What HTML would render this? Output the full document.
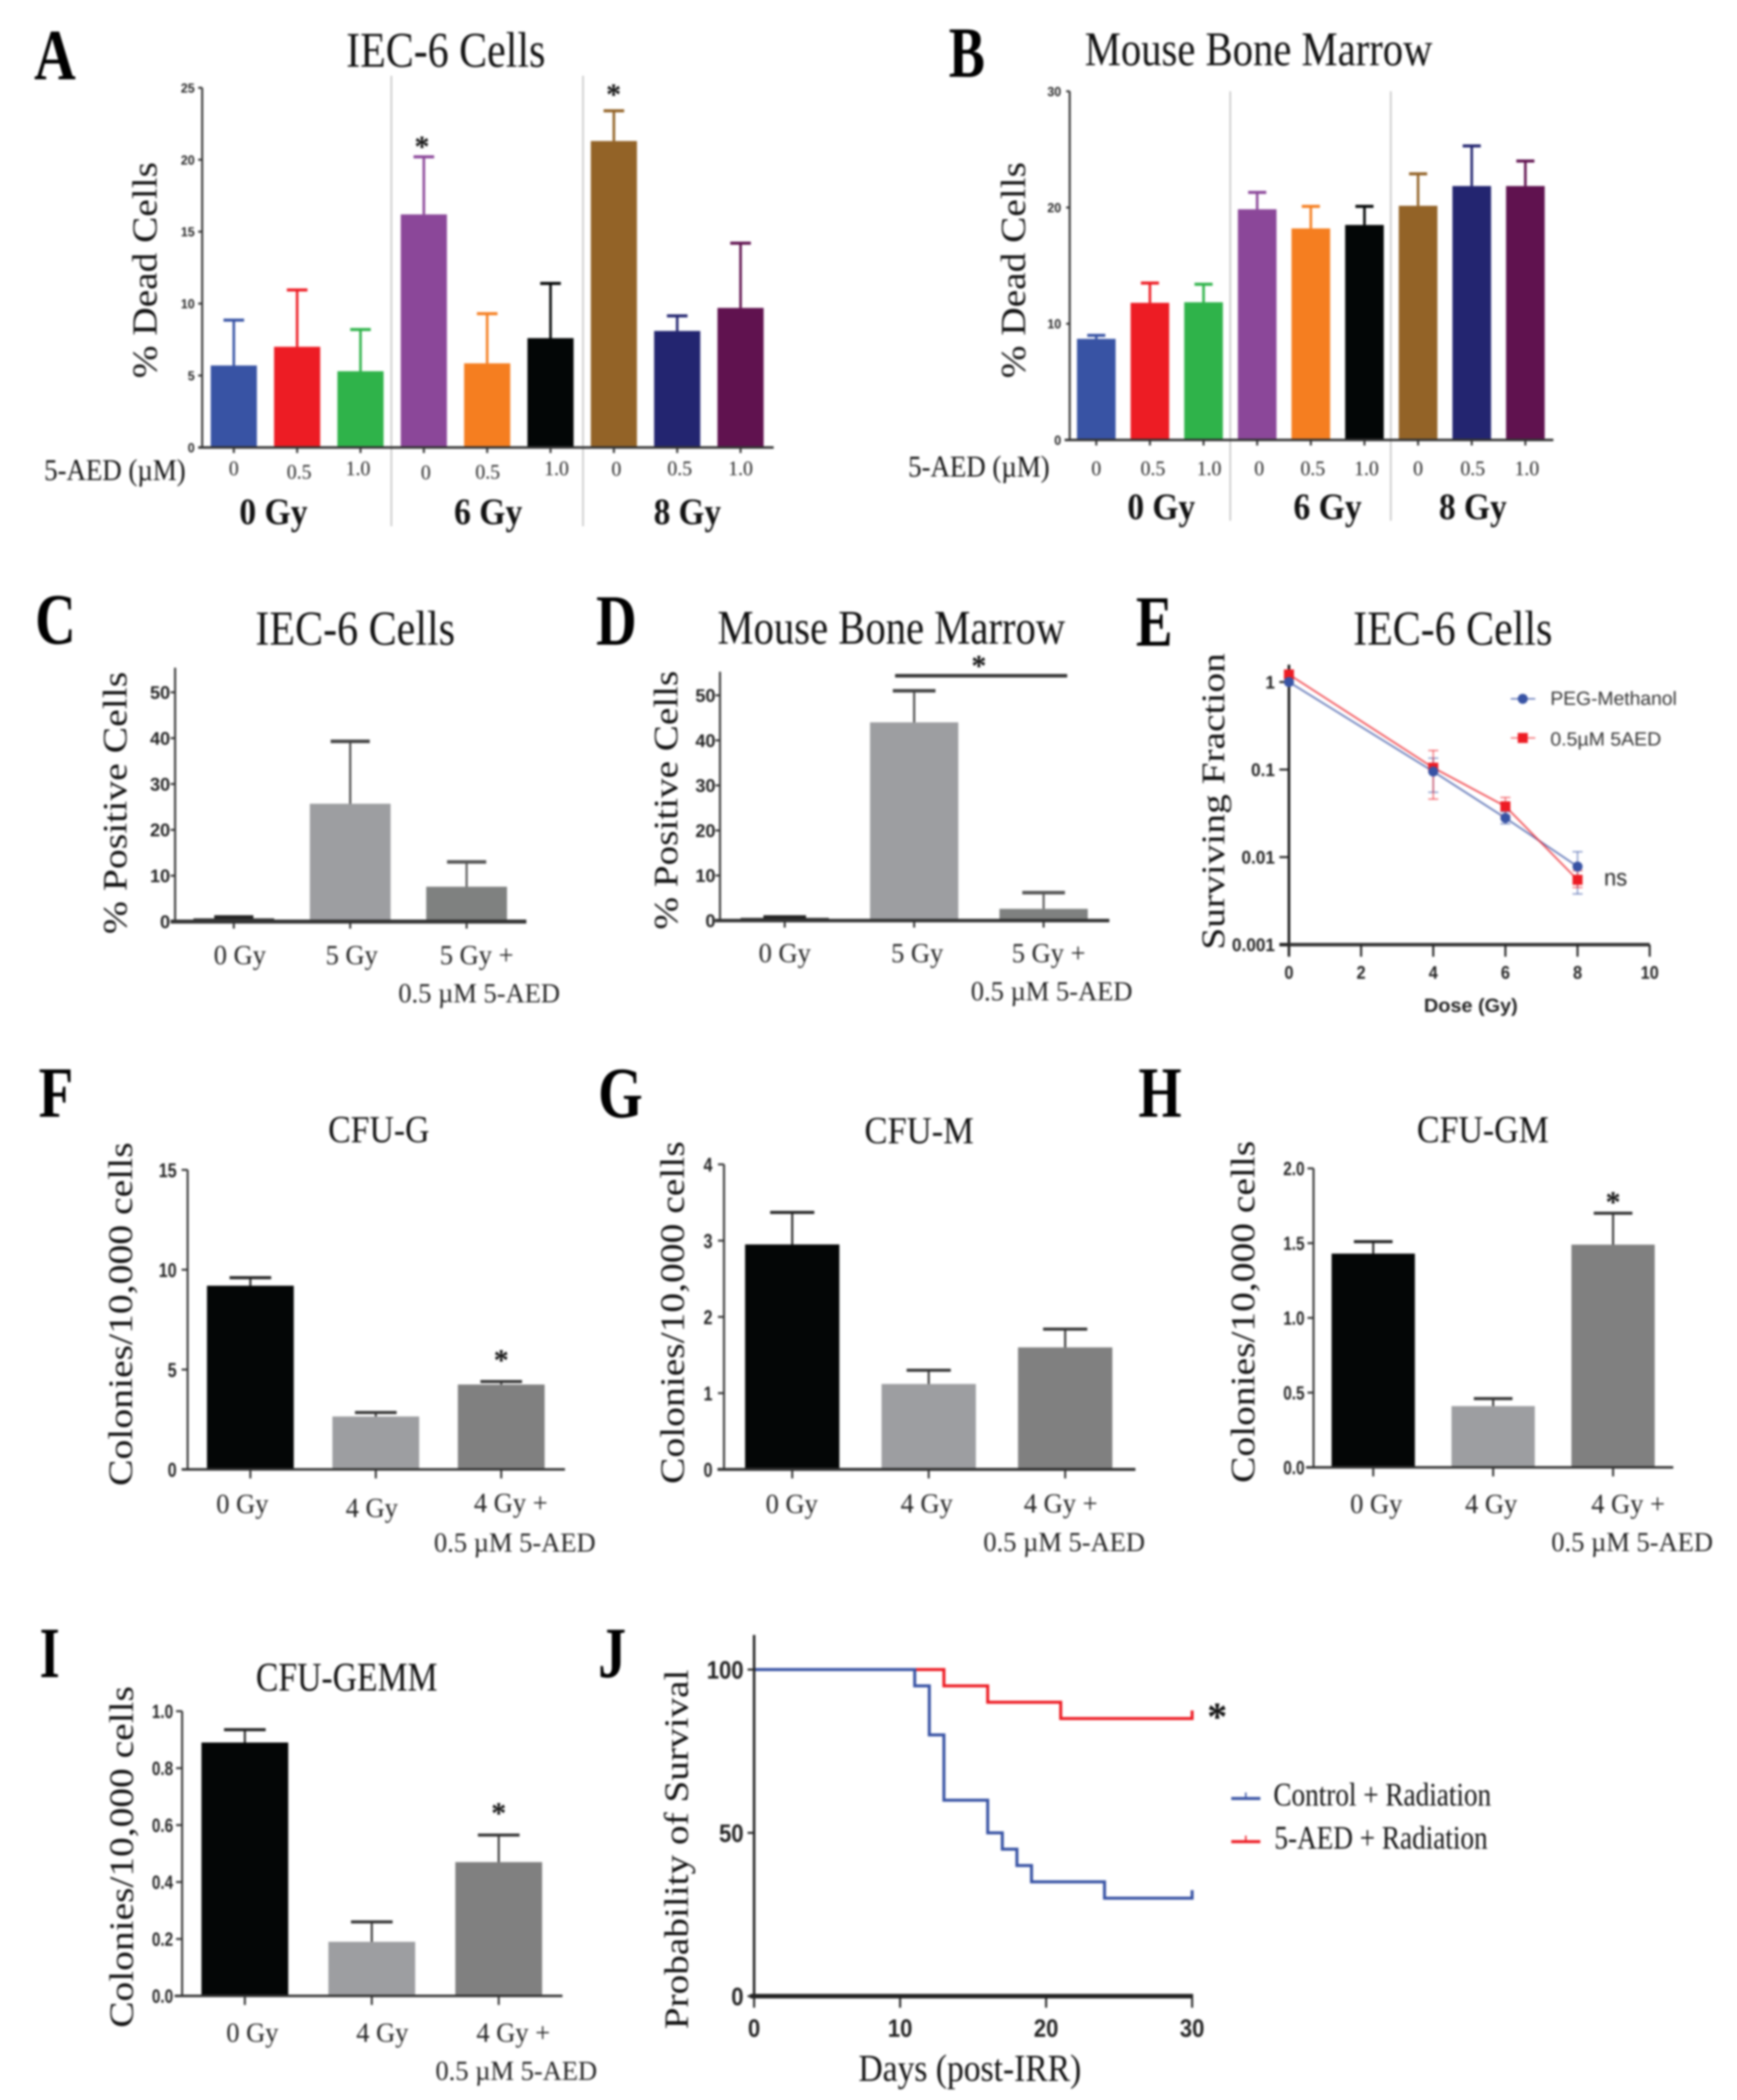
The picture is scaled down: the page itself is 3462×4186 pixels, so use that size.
<!DOCTYPE html>
<html lang="en">
<head>
<meta charset="utf-8">
<title>5-AED radiation figure panels A-J</title>
<style>
html,body{margin:0;padding:0;background:#fff;}
#figure{display:block;filter:blur(2px);}
.serif{font-family:"Liberation Serif",serif;fill:#111;}
.letter{font-family:"Liberation Serif",serif;font-weight:bold;font-size:144px;fill:#000;}
.sans{font-family:"Liberation Sans",sans-serif;}
</style>
</head>
<body>
<svg id="figure" xmlns="http://www.w3.org/2000/svg" width="3462" height="4186" viewBox="0 0 3462 4186">
<rect x="0" y="0" width="3462" height="4186" fill="#fff"/>

<g id="panel-a">
  <line x1="780" y1="151" x2="780" y2="1049" stroke="#c4c4c4" stroke-width="3"/>
  <line x1="1162" y1="151" x2="1162" y2="1049" stroke="#c4c4c4" stroke-width="3"/>
  <text class="letter" x="68" y="158" textLength="83" lengthAdjust="spacingAndGlyphs">A</text>
  <text class="serif" x="690" y="133" font-size="100" textLength="397" lengthAdjust="spacingAndGlyphs">IEC-6 Cells</text>
  <text class="serif" transform="translate(312,754) rotate(-90)" font-size="70" textLength="431" lengthAdjust="spacingAndGlyphs">% Dead Cells</text>
  <text class="serif" x="88" y="957" font-size="60" textLength="282" lengthAdjust="spacingAndGlyphs">5-AED (µM)</text>
  <text class="serif" x="477" y="1045" font-size="74" font-weight="bold" textLength="136" lengthAdjust="spacingAndGlyphs">0 Gy</text>
  <text class="serif" x="905" y="1045" font-size="74" font-weight="bold" textLength="136" lengthAdjust="spacingAndGlyphs">6 Gy</text>
  <text class="serif" x="1303" y="1045" font-size="74" font-weight="bold" textLength="134" lengthAdjust="spacingAndGlyphs">8 Gy</text>
  <text class="serif" x="841" y="312" font-size="60" font-weight="bold" text-anchor="middle">*</text>
  <text class="serif" x="1223" y="208" font-size="60" font-weight="bold" text-anchor="middle">*</text>
</g>

<g id="panel-b">
  <line x1="2452" y1="182" x2="2452" y2="1038" stroke="#c4c4c4" stroke-width="3"/>
  <line x1="2772" y1="182" x2="2772" y2="1038" stroke="#c4c4c4" stroke-width="3"/>
  <text class="letter" x="1891" y="153" textLength="72" lengthAdjust="spacingAndGlyphs">B</text>
  <text class="serif" x="2162" y="130" font-size="96" textLength="693" lengthAdjust="spacingAndGlyphs">Mouse Bone Marrow</text>
  <text class="serif" transform="translate(2043,754) rotate(-90)" font-size="70" textLength="431" lengthAdjust="spacingAndGlyphs">% Dead Cells</text>
  <text class="serif" x="1810" y="950" font-size="60" textLength="282" lengthAdjust="spacingAndGlyphs">5-AED (µM)</text>
  <text class="serif" x="2247" y="1035" font-size="74" font-weight="bold" textLength="135" lengthAdjust="spacingAndGlyphs">0 Gy</text>
  <text class="serif" x="2578" y="1035" font-size="74" font-weight="bold" textLength="136" lengthAdjust="spacingAndGlyphs">6 Gy</text>
  <text class="serif" x="2868" y="1035" font-size="74" font-weight="bold" textLength="135" lengthAdjust="spacingAndGlyphs">8 Gy</text>
</g>

<g id="panel-c">
  <text class="letter" x="70" y="1283" textLength="81" lengthAdjust="spacingAndGlyphs">C</text>
  <text class="serif" x="509" y="1285" font-size="98" textLength="398" lengthAdjust="spacingAndGlyphs">IEC-6 Cells</text>
  <text class="serif" transform="translate(252,1862) rotate(-90)" font-size="68" textLength="523" lengthAdjust="spacingAndGlyphs">% Positive Cells</text>
</g>

<g id="panel-d">
  <text class="letter" x="1188" y="1285" textLength="81" lengthAdjust="spacingAndGlyphs">D</text>
  <text class="serif" x="1430" y="1283" font-size="96" textLength="693" lengthAdjust="spacingAndGlyphs">Mouse Bone Marrow</text>
  <text class="serif" transform="translate(1350,1853) rotate(-90)" font-size="68" textLength="516" lengthAdjust="spacingAndGlyphs">% Positive Cells</text>
  <line x1="1784" y1="1347" x2="2127" y2="1347" stroke="#333" stroke-width="7"/>
  <text class="serif" x="1951" y="1347" font-size="60" font-weight="bold" text-anchor="middle">*</text>
</g>

<g id="panel-e">
  <text class="letter" x="2264" y="1287" textLength="73" lengthAdjust="spacingAndGlyphs">E</text>
  <text class="serif" x="2697" y="1285" font-size="98" textLength="397" lengthAdjust="spacingAndGlyphs">IEC-6 Cells</text>
  <text class="serif" transform="translate(2440,1893) rotate(-90)" font-size="66" textLength="591" lengthAdjust="spacingAndGlyphs">Surviving Fraction</text>
  <text class="sans" x="2838" y="2017" font-size="38" font-weight="bold" fill="#222" textLength="187" lengthAdjust="spacingAndGlyphs">Dose (Gy)</text>
  <text class="sans" x="3090" y="1405" font-size="38" fill="#333" textLength="252" lengthAdjust="spacingAndGlyphs">PEG-Methanol</text>
  <text class="sans" x="3090" y="1486" font-size="38" fill="#333" textLength="221" lengthAdjust="spacingAndGlyphs">0.5µM 5AED</text>
  <text class="sans" x="3197" y="1765" font-size="46" fill="#222" textLength="46" lengthAdjust="spacingAndGlyphs">ns</text>
</g>

<g id="panel-f">
  <text class="letter" x="77" y="2226" textLength="69" lengthAdjust="spacingAndGlyphs">F</text>
  <text class="serif" x="654" y="2277" font-size="76" textLength="202" lengthAdjust="spacingAndGlyphs">CFU-G</text>
  <text class="serif" transform="translate(263,2962) rotate(-90)" font-size="68" textLength="685" lengthAdjust="spacingAndGlyphs">Colonies/10,000 cells</text>
  <text class="serif" x="999" y="2731" font-size="60" font-weight="bold" text-anchor="middle">*</text>
</g>

<g id="panel-g">
  <text class="letter" x="1192" y="2227" textLength="89" lengthAdjust="spacingAndGlyphs">G</text>
  <text class="serif" x="1723" y="2279" font-size="76" textLength="218" lengthAdjust="spacingAndGlyphs">CFU-M</text>
  <text class="serif" transform="translate(1363,2958) rotate(-90)" font-size="68" textLength="683" lengthAdjust="spacingAndGlyphs">Colonies/10,000 cells</text>
</g>

<g id="panel-h">
  <text class="letter" x="2269" y="2226" textLength="86" lengthAdjust="spacingAndGlyphs">H</text>
  <text class="serif" x="2824" y="2277" font-size="76" textLength="263" lengthAdjust="spacingAndGlyphs">CFU-GM</text>
  <text class="serif" transform="translate(2500,2956) rotate(-90)" font-size="68" textLength="682" lengthAdjust="spacingAndGlyphs">Colonies/10,000 cells</text>
  <text class="serif" x="3215" y="2416" font-size="60" font-weight="bold" text-anchor="middle">*</text>
</g>

<g id="panel-i">
  <text class="letter" x="79" y="3343" textLength="40" lengthAdjust="spacingAndGlyphs">I</text>
  <text class="serif" x="510" y="3370" font-size="82" textLength="362" lengthAdjust="spacingAndGlyphs">CFU-GEMM</text>
  <text class="serif" transform="translate(265,4042) rotate(-90)" font-size="68" textLength="681" lengthAdjust="spacingAndGlyphs">Colonies/10,000 cells</text>
  <text class="serif" x="994" y="3634" font-size="60" font-weight="bold" text-anchor="middle">*</text>
</g>

<g id="panel-j">
  <text class="letter" x="1192" y="3343" textLength="56" lengthAdjust="spacingAndGlyphs">J</text>
  <text class="serif" transform="translate(1371,4045) rotate(-90)" font-size="68" textLength="717" lengthAdjust="spacingAndGlyphs">Probability of Survival</text>
  <text class="serif" x="1711" y="4148" font-size="76" textLength="444" lengthAdjust="spacingAndGlyphs">Days (post-IRR)</text>
  <text class="serif" x="2538" y="3599" font-size="66" textLength="434" lengthAdjust="spacingAndGlyphs">Control + Radiation</text>
  <text class="serif" x="2540" y="3685" font-size="66" textLength="425" lengthAdjust="spacingAndGlyphs">5-AED + Radiation</text>
  <text class="serif" x="2426" y="3449" font-size="80" font-weight="bold" text-anchor="middle">*</text>
</g>
</svg>

<script>
// ---- Panel A data ----
const panelACategories = ['0', '0.5', '1.0', '0', '0.5', '1.0', '0', '0.5', '1.0'];
const panelAValues = [5.7, 7.0, 5.3, 16.2, 5.85, 7.6, 21.3, 8.1, 9.7];
const panelAErrorTops = [8.85, 10.95, 8.2, 20.2, 9.3, 11.4, 23.4, 9.15, 14.2];
const panelATicks = [0, 5, 10, 15, 20, 25];

// ---- Panel B data ----
const panelBCategories = ['0', '0.5', '1.0', '0', '0.5', '1.0', '0', '0.5', '1.0'];
const panelBValues = [8.7, 11.8, 11.85, 19.85, 18.2, 18.5, 20.15, 21.85, 21.85];
const panelBErrorTops = [9.0, 13.5, 13.4, 21.3, 20.1, 20.1, 22.9, 25.3, 24.0];
const panelBTicks = [0, 10, 20, 30];

// ---- Panel C data ----
const panelCCategories = ['0 Gy', '5 Gy', '5 Gy +|0.5 µM 5-AED'];
const panelCValues = [0.7, 25.7, 7.6];
const panelCErrorTops = [1.0, 39.3, 13.0];
const panelCTicks = [0, 10, 20, 30, 40, 50];

// ---- Panel D data ----
const panelDCategories = ['0 Gy', '5 Gy', '5 Gy +|0.5 µM 5-AED'];
const panelDValues = [0.6, 44.0, 2.6];
const panelDErrorTops = [0.8, 51.0, 6.2];
const panelDTicks = [0, 10, 20, 30, 40, 50];

// ---- Panel E data ----
const panelEDoses = [0, 4, 6, 8];
const panelEVehicle = [1.0, 0.095, 0.028, 0.0078];
const panelEVehicleLow = [1.0, 0.055, 0.024, 0.0038];
const panelEVehicleHigh = [1.0, 0.135, 0.033, 0.0115];
const panelETreated = [1.22, 0.105, 0.038, 0.0055];
const panelETreatedLow = [1.22, 0.046, 0.03, 0.0045];
const panelETreatedHigh = [1.22, 0.165, 0.048, 0.007];
const panelEYTicks = [1, 0.1, 0.01, 0.001];
const panelEYTickLabels = ['1', '0.1', '0.01', '0.001'];
const panelEXTicks = [0, 2, 4, 6, 8, 10];

// ---- Panel F data ----
const panelFCategories = ['0 Gy', '4 Gy', '4 Gy +|0.5 µM 5-AED'];
const panelFValues = [9.2, 2.65, 4.25];
const panelFErrorTops = [9.6, 2.85, 4.4];
const panelFTicks = [0, 5, 10, 15];

// ---- Panel G data ----
const panelGCategories = ['0 Gy', '4 Gy', '4 Gy +|0.5 µM 5-AED'];
const panelGValues = [2.95, 1.12, 1.6];
const panelGErrorTops = [3.37, 1.3, 1.84];
const panelGTicks = [0, 1, 2, 3, 4];

// ---- Panel H data ----
const panelHCategories = ['0 Gy', '4 Gy', '4 Gy +|0.5 µM 5-AED'];
const panelHValues = [1.43, 0.41, 1.49];
const panelHErrorTops = [1.51, 0.46, 1.70];
const panelHTicks = [0, 0.5, 1, 1.5, 2];

// ---- Panel I data ----
const panelICategories = ['0 Gy', '4 Gy', '4 Gy +|0.5 µM 5-AED'];
const panelIValues = [0.89, 0.19, 0.47];
const panelIErrorTops = [0.935, 0.26, 0.565];
const panelITicks = [0, 0.2, 0.4, 0.6, 0.8, 1];

// ---- Panel J data ----
const controlDays = [0, 11, 12, 13, 16, 17, 18, 19, 24, 30];
const controlSurvival = [100, 95, 80, 60, 50, 45, 40, 35, 30, 30];
const treatedDays = [0, 13, 16, 21, 30];
const treatedSurvival = [100, 95, 90, 85, 85];
const panelJYTicks = [0, 50, 100];
const panelJXTicks = [0, 10, 20, 30];

const rainbow = ['#3853a4', '#ed1c24', '#2fb34a', '#8b4799', '#f57e20', '#030606', '#936327', '#232570', '#60124f'];
const NS = 'http://www.w3.org/2000/svg';

function drawLine(parent, name, x1, y1, x2, y2, color, width, opacity) {
  const el = document.createElementNS(NS, 'line');
  
  
  el.setAttribute('x1', x1);
  el.setAttribute('y1', y1);
  el.setAttribute('x2', x2);
  el.setAttribute('y2', y2);
  el.setAttribute('stroke', color);
  el.setAttribute('stroke-width', width);
  if (opacity) el.setAttribute('stroke-opacity', opacity);
  parent.appendChild(el);
  return el;
}

function drawRect(parent, name, x, y, w, h, color) {
  const el = document.createElementNS(NS, 'rect');
  
  
  el.setAttribute('x', x);
  el.setAttribute('y', y);
  el.setAttribute('width', w);
  el.setAttribute('height', Math.max(h, 0));
  el.setAttribute('fill', color);
  parent.appendChild(el);
  return el;
}

function drawText(parent, name, str, x, y, size, family, weight, anchor, sx, color) {
  const el = document.createElementNS(NS, 'text');
  
  
  el.setAttribute('transform', 'translate(' + x + ',' + y + ') scale(' + sx + ',1)');
  el.setAttribute('font-size', size);
  el.setAttribute('font-family', family);
  el.setAttribute('font-weight', weight);
  el.setAttribute('text-anchor', anchor);
  el.setAttribute('fill', color);
  el.textContent = str;
  parent.appendChild(el);
  return el;
}

const SERIF = '"Liberation Serif", serif';
const SANS = '"Liberation Sans", sans-serif';

function drawBarChart(cfg, categories, values, errorTops, ticks) {
  const g = document.getElementById(cfg.panel);
  const yScale = function (v) { return cfg.y0 - (v / cfg.max) * (cfg.y0 - cfg.yMaxPx); };
  const xCenter = function (i) { return cfg.x0 + i * cfg.step; };

  values.forEach(function (v, i) {
    const cx = xCenter(i);
    const col = cfg.colors[i];
    const errCol = cfg.errColors ? cfg.errColors[i] : col;
    drawRect(g, 'bar-' + (i + 1), cx - cfg.barW / 2, yScale(v), cfg.barW, cfg.y0 - yScale(v), col);
    drawLine(g, 'error-stem-' + (i + 1), cx, yScale(v), cx, yScale(errorTops[i]), errCol, cfg.stemW);
    drawLine(g, 'error-cap-' + (i + 1), cx - cfg.capW / 2, yScale(errorTops[i]), cx + cfg.capW / 2, yScale(errorTops[i]), errCol, cfg.capH);
    drawLine(g, 'x-tick-' + (i + 1), cx, cfg.y0, cx, cfg.y0 + cfg.xTickLen, '#333', 4);
    const parts = categories[i].split('|');
    drawText(g, 'x-tick-label-' + (i + 1), parts[0], cx + cfg.labelDx[i], cfg.labelY[i], cfg.labelSize, SERIF, 'normal', 'middle', 0.96, '#222');
    if (parts[1]) {
      drawText(g, 'x-tick-label-line2', parts[1], cx + cfg.line2Dx, cfg.line2Y, cfg.labelSize, SERIF, 'normal', 'middle', 0.96, '#222');
    }
  });

  drawLine(g, 'y-axis-line', cfg.axisX, cfg.axisTop, cfg.axisX, cfg.y0 + 2, '#333', cfg.yAxisW);
  drawLine(g, 'x-axis-line', cfg.xStart, cfg.y0, cfg.xEnd, cfg.y0, '#333', cfg.xAxisW);
  ticks.forEach(function (t) {
    const y = yScale(t);
    drawLine(g, 'y-tick', cfg.axisX - cfg.tickLen, y, cfg.axisX, y, '#333', 4);
    drawText(g, 'y-tick-label', t.toFixed(cfg.decimals), cfg.tickRight, y + cfg.tickSize * 0.36, cfg.tickSize, SANS, 'bold', 'end', cfg.tickSx, '#222');
  });
}

drawBarChart({
  panel: 'panel-a', x0: 466, step: 126.25, barW: 92, capW: 41, stemW: 5, capH: 6,
  y0: 892, yMaxPx: 175, max: 25, axisX: 403, axisTop: 175, xStart: 395, xEnd: 1542,
  tickLen: 8, xTickLen: 11, yAxisW: 4, xAxisW: 5, tickSize: 26, tickSx: 0.95, tickRight: 388, decimals: 0,
  colors: rainbow, labelSize: 41, labelDx: [0, 4, -5, 4, 1, 12, 5, 5, 0],
  labelY: [947, 954, 947, 955, 954, 947, 948, 947, 947], line2Dx: 0, line2Y: 0
}, panelACategories, panelAValues, panelAErrorTops, panelATicks);

drawBarChart({
  panel: 'panel-b', x0: 2185, step: 106.9, barW: 77, capW: 36, stemW: 5, capH: 6,
  y0: 877, yMaxPx: 182, max: 30, axisX: 2132, axisTop: 182, xStart: 2122, xEnd: 3096,
  tickLen: 7, xTickLen: 11, yAxisW: 4, xAxisW: 5, tickSize: 26, tickSx: 0.95, tickRight: 2115, decimals: 0,
  colors: rainbow, labelSize: 41, labelDx: [0, 6, 11, 4, 4, 4, 0, 2, 3],
  labelY: [947, 947, 947, 947, 947, 947, 947, 947, 947], line2Dx: 0, line2Y: 0
}, panelBCategories, panelBValues, panelBErrorTops, panelBTicks);

drawBarChart({
  panel: 'panel-c', x0: 466, step: 232, barW: 161, capW: 78, stemW: 4, capH: 7,
  y0: 1837, yMaxPx: 1380, max: 50, axisX: 349, axisTop: 1331, xStart: 340, xEnd: 1049,
  tickLen: 9, xTickLen: 14, yAxisW: 4, xAxisW: 8, tickSize: 36, tickSx: 1.0, tickRight: 339, decimals: 0,
  colors: ['#333333', '#9d9ea1', '#7f8180'], errColors: ['#222', '#444', '#555'],
  labelSize: 55, labelDx: [12, 3, 20], labelY: [1922, 1922, 1922], line2Dx: 25, line2Y: 1998
}, panelCCategories, panelCValues, panelCErrorTops, panelCTicks);

drawBarChart({
  panel: 'panel-d', x0: 1564, step: 258, barW: 176, capW: 85, stemW: 4, capH: 7,
  y0: 1835, yMaxPx: 1386, max: 50, axisX: 1435, axisTop: 1339, xStart: 1425, xEnd: 2211,
  tickLen: 9, xTickLen: 14, yAxisW: 4, xAxisW: 7, tickSize: 36, tickSx: 1.0, tickRight: 1426, decimals: 0,
  colors: ['#333333', '#9d9ea1', '#7f8180'], errColors: ['#222', '#444', '#555'],
  labelSize: 55, labelDx: [0, 6, 10], labelY: [1918, 1918, 1918], line2Dx: 16, line2Y: 1994
}, panelDCategories, panelDValues, panelDErrorTops, panelDTicks);

drawBarChart({
  panel: 'panel-f', x0: 499, step: 250, barW: 173, capW: 83, stemW: 4, capH: 6,
  y0: 2929, yMaxPx: 2332, max: 15, axisX: 374, axisTop: 2332, xStart: 362, xEnd: 1126,
  tickLen: 12, xTickLen: 18, yAxisW: 4, xAxisW: 5, tickSize: 40, tickSx: 0.8, tickRight: 352, decimals: 0,
  colors: ['#040606', '#9d9ea1', '#808080'], errColors: ['#222', '#333', '#333'],
  labelSize: 55, labelDx: [-16, -8, 19], labelY: [3016, 3024, 3014], line2Dx: 27, line2Y: 3093
}, panelFCategories, panelFValues, panelFErrorTops, panelFTicks);

drawBarChart({
  panel: 'panel-g', x0: 1579, step: 272, barW: 188, capW: 88, stemW: 4, capH: 6,
  y0: 2929, yMaxPx: 2321, max: 4, axisX: 1443, axisTop: 2321, xStart: 1430, xEnd: 2263,
  tickLen: 12, xTickLen: 18, yAxisW: 4, xAxisW: 6, tickSize: 40, tickSx: 0.8, tickRight: 1420, decimals: 0,
  colors: ['#040606', '#9d9ea1', '#808080'], errColors: ['#222', '#333', '#333'],
  labelSize: 55, labelDx: [-1, -4, -9], labelY: [3016, 3015, 3015], line2Dx: -2, line2Y: 3092
}, panelGCategories, panelGValues, panelGErrorTops, panelGTicks);

drawBarChart({
  panel: 'panel-h', x0: 2737, step: 239, barW: 166, capW: 77, stemW: 4, capH: 6,
  y0: 2925, yMaxPx: 2329, max: 2, axisX: 2618, axisTop: 2329, xStart: 2603, xEnd: 3335,
  tickLen: 12, xTickLen: 18, yAxisW: 4, xAxisW: 5, tickSize: 38, tickSx: 0.8, tickRight: 2600, decimals: 1,
  colors: ['#040606', '#9d9ea1', '#808080'], errColors: ['#222', '#333', '#333'],
  labelSize: 55, labelDx: [6, -4, 30], labelY: [3016, 3016, 3016], line2Dx: 38, line2Y: 3092
}, panelHCategories, panelHValues, panelHErrorTops, panelHTicks);

drawBarChart({
  panel: 'panel-i', x0: 488, step: 253, barW: 173, capW: 83, stemW: 4, capH: 6,
  y0: 3978.5, yMaxPx: 3411, max: 1, axisX: 363, axisTop: 3411, xStart: 348, xEnd: 1121,
  tickLen: 12, xTickLen: 18, yAxisW: 4, xAxisW: 5, tickSize: 38, tickSx: 0.8, tickRight: 345, decimals: 1,
  colors: ['#040606', '#9d9ea1', '#808080'], errColors: ['#222', '#333', '#333'],
  labelSize: 55, labelDx: [15, 21, 29], labelY: [4070, 4070, 4070], line2Dx: 35, line2Y: 4146
}, panelICategories, panelIValues, panelIErrorTops, panelITicks);

// Panel E: log-scale survival curves
(function () {
  const g = document.getElementById('panel-e');
  const xScale = function (d) { return 2569 + d * 71.9; };
  const yScale = function (v) { return 1359.5 - Math.log10(v) * 174.5; };

  drawLine(g, 'y-axis-line', 2569, 1325, 2569, 1907, '#111', 5);
  drawLine(g, 'x-axis-line', 2550, yScale(0.001), xScale(10), yScale(0.001), '#333', 7);
  panelEYTicks.forEach(function (t, i) {
    drawLine(g, 'y-tick', 2550, yScale(t), 2569, yScale(t), '#222', 4);
    drawText(g, 'y-tick-label', panelEYTickLabels[i], 2541, yScale(t) + 13, 36, SANS, 'bold', 'end', 0.95, '#222');
  });
  panelEXTicks.forEach(function (t) {
    drawLine(g, 'x-tick', xScale(t), yScale(0.001), xScale(t), 1907, '#222', 4);
    drawText(g, 'x-tick-label', String(t), xScale(t), 1951, 36, SANS, 'bold', 'middle', 0.9, '#222');
  });

  function series(name, values, low, high, color) {
    for (let i = 1; i < values.length; i++) {
      drawLine(g, name + '-segment', xScale(panelEDoses[i - 1]), yScale(values[i - 1]), xScale(panelEDoses[i]), yScale(values[i]), color, 3.5, 0.75);
    }
    values.forEach(function (v, i) {
      const x = xScale(panelEDoses[i]);
      if (high[i] !== low[i]) {
        drawLine(g, name + '-error-stem', x, yScale(low[i]), x, yScale(high[i]), color, 3, 0.55);
        drawLine(g, name + '-error-cap', x - 10, yScale(low[i]), x + 10, yScale(low[i]), color, 3, 0.55);
        drawLine(g, name + '-error-cap', x - 10, yScale(high[i]), x + 10, yScale(high[i]), color, 3, 0.55);
      }
    });
  }
  series('peg-methanol', panelEVehicle, panelEVehicleLow, panelEVehicleHigh, '#3853a4');
  series('five-aed', panelETreated, panelETreatedLow, panelETreatedHigh, '#ed1c24');

  function circle(name, x, y) {
    const el = document.createElementNS(NS, 'circle');
    
    
    el.setAttribute('cx', x);
    el.setAttribute('cy', y);
    el.setAttribute('r', 10);
    el.setAttribute('fill', '#3853a4');
    g.appendChild(el);
  }
  panelEVehicle.forEach(function (v, i) {
    if (i === 3) circle('peg-methanol-point', xScale(panelEDoses[i]), yScale(v));
  });
  panelETreated.forEach(function (v, i) {
    drawRect(g, 'five-aed-point', xScale(panelEDoses[i]) - 10, yScale(v) - 10, 20, 20, '#ed1c24');
  });
  panelEVehicle.forEach(function (v, i) {
    if (i !== 3) circle('peg-methanol-point', xScale(panelEDoses[i]), yScale(v));
  });

  drawLine(g, 'legend-line-peg-methanol', 3011, 1393, 3060, 1393, '#3853a4', 3, 0.75);
  circle('legend-marker-peg-methanol', 3035, 1393);
  drawLine(g, 'legend-line-5aed', 3011, 1471, 3060, 1471, '#ed1c24', 3, 0.6);
  drawRect(g, 'legend-marker-5aed', 3025, 1461, 20, 20, '#ed1c24');
})();

// Panel J: Kaplan-Meier survival curves
(function () {
  const g = document.getElementById('panel-j');
  const xScale = function (d) { return 1503 + d * 29.1; };
  const yScale = function (s) { return 3979 - s * 6.51; };

  function km(name, days, survival, color) {
    let d = 'M' + xScale(days[0]) + ' ' + yScale(survival[0]);
    for (let i = 1; i < days.length; i++) {
      d += ' H' + xScale(days[i]) + ' V' + yScale(survival[i]);
    }
    const last = days.length - 1;
    d += ' V' + (yScale(survival[last]) - 16);
    const el = document.createElementNS(NS, 'path');
    
    
    el.setAttribute('d', d);
    el.setAttribute('fill', 'none');
    el.setAttribute('stroke', color);
    el.setAttribute('stroke-width', 6);
    g.appendChild(el);
  }
  km('survival-curve-5aed', treatedDays, treatedSurvival, '#ed1c24');
  km('survival-curve-control', controlDays, controlSurvival, '#3853a4');

  drawLine(g, 'y-axis-line', 1503, 3259, 1503, 3979, '#222', 5);
  drawLine(g, 'x-axis-line', 1495, 3979, xScale(30) + 2, 3979, '#222', 9);
  panelJYTicks.forEach(function (t) {
    drawLine(g, 'y-tick', 1490, yScale(t), 1503, yScale(t), '#222', 4);
    drawText(g, 'y-tick-label', String(t), 1482, yScale(t) + 18, 50, SANS, 'bold', 'end', 0.88, '#222');
  });
  panelJXTicks.forEach(function (t) {
    drawLine(g, 'x-tick', xScale(t), 3979, xScale(t), 4002, '#222', 4);
    drawText(g, 'x-tick-label', String(t), xScale(t), 4060, 50, SANS, 'bold', 'middle', 0.88, '#222');
  });

  drawLine(g, 'legend-line-control', 2454, 3585, 2512, 3585, '#3853a4', 6);
  drawLine(g, 'legend-tick-control', 2483, 3573, 2483, 3585, '#3853a4', 3);
  drawLine(g, 'legend-line-5aed', 2454, 3671, 2512, 3671, '#ed1c24', 6);
  drawLine(g, 'legend-tick-5aed', 2483, 3659, 2483, 3671, '#ed1c24', 3);
})();
</script>
</body>
</html>
